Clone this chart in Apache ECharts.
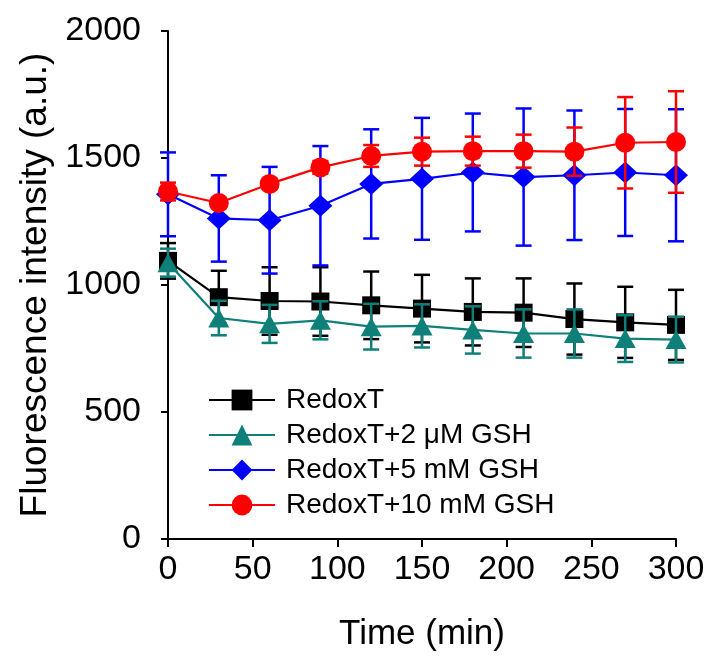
<!DOCTYPE html>
<html><head><meta charset="utf-8">
<script src="https://cdn.jsdelivr.net/npm/echarts@6/dist/echarts.min.js"></script>
<style>html,body{margin:0;padding:0;background:#fff}#c{width:709px;height:661px}</style>
</head><body><div id="c"></div>
<script>
const times = [0, 30, 60, 90, 120, 150, 180, 210, 240, 270, 300];
const seriesNames = ['RedoxT', 'RedoxT+2 \u03bcM GSH', 'RedoxT+5 mM GSH', 'RedoxT+10 mM GSH'];
const redoxT      = [1095, 952, 937, 935, 920, 907, 894, 891, 866, 853, 843];
const redoxTErr   = [70, 104, 133, 135, 133, 133, 132, 135, 140, 140, 138];
const gsh2uM      = [1088, 870, 847, 861, 836, 839, 823, 809, 809, 789, 785];
const gsh2uMErr   = [55, 68, 75, 75, 90, 85, 93, 95, 95, 92, 90];
const gsh5mM      = [1357, 1262, 1255, 1312, 1398, 1418, 1443, 1425, 1432, 1443, 1432];
const gsh5mMErr   = [165, 170, 210, 235, 215, 240, 232, 270, 255, 250, 260];
const gsh10mM     = [1368, 1323, 1398, 1463, 1508, 1525, 1527, 1527, 1525, 1560, 1563];
const gsh10mMErr  = [35, 20, 20, 25, 43, 55, 57, 65, 95, 180, 200];
const yTicks = [0, 500, 1000, 1500, 2000];

const colors = ['#000000', '#0e8079', '#0000ff', '#ff0000'];
const symbols = ['rect', 'triangle', 'diamond', 'circle'];
const symSizes = [[18, 18], [21, 19], [24, 22], [20, 20]];
const vals = [redoxT, gsh2uM, gsh5mM, gsh10mM];
const errs = [redoxTErr, gsh2uMErr, gsh5mMErr, gsh10mMErr];

const FONT = 'Liberation Sans, Arial, sans-serif';
const series = [];
vals.forEach((v, i) => {
  const err = errs[i];
  series.push({
    type: 'custom',
    name: seriesNames[i] + '_err',
    z: 2 * i + 1,
    silent: true,
    data: times.map((t, k) => [t, v[k] - err[k], v[k] + err[k]]),
    renderItem: function (params, api) {
      const lo = api.coord([api.value(0), api.value(1)]);
      const hi = api.coord([api.value(0), api.value(2)]);
      const hw = 8;
      const st = { stroke: colors[i], lineWidth: 2.5 };
      return {
        type: 'group',
        children: [
          { type: 'line', shape: { x1: lo[0], y1: lo[1], x2: hi[0], y2: hi[1] }, style: st },
          { type: 'line', shape: { x1: lo[0] - hw, y1: lo[1], x2: lo[0] + hw, y2: lo[1] }, style: st },
          { type: 'line', shape: { x1: hi[0] - hw, y1: hi[1], x2: hi[0] + hw, y2: hi[1] }, style: st }
        ]
      };
    }
  });
  series.push({
    type: 'line',
    name: seriesNames[i],
    z: 2 * i + 2,
    data: times.map((t, k) => [t, v[k]]),
    symbol: symbols[i],
    symbolSize: symSizes[i],
    lineStyle: { color: colors[i], width: 2.2 },
    itemStyle: { color: colors[i] },
    animation: false
  });
});

const chart = echarts.init(document.getElementById('c'), null, { renderer: 'canvas' });
chart.setOption({
  animation: false,
  backgroundColor: '#ffffff',
  grid: { left: 168, right: 33, top: 31, bottom: 122, containLabel: false },
  legend: {
    data: seriesNames,
    orient: 'vertical',
    left: 203,
    top: 381,
    itemWidth: 66,
    itemHeight: 26,
    itemGap: 7,
    textStyle: { fontFamily: FONT, fontSize: 28, color: '#000', lineHeight: 28, padding: [0, 0, 0, 6] },
    selectedMode: false
  },
  xAxis: {
    type: 'value',
    min: 0, max: 300, interval: 50,
    name: 'Time (min)',
    nameLocation: 'middle',
    nameGap: 78,
    nameTextStyle: { fontFamily: FONT, fontSize: 35, color: '#000' },
    axisLine: { lineStyle: { color: '#000', width: 2 } },
    axisTick: { show: true, inside: false, length: 8, lineStyle: { color: '#000', width: 2 } },
    axisLabel: { fontFamily: FONT, fontSize: 34, color: '#000', margin: 14 },
    splitLine: { show: false }
  },
  yAxis: {
    type: 'value',
    min: yTicks[0], max: yTicks[yTicks.length - 1], interval: 500,
    name: 'Fluorescence intensity (a.u.)',
    nameLocation: 'middle',
    nameGap: 114,
    nameRotate: 90,
    nameTextStyle: { fontFamily: FONT, fontSize: 37, color: '#000' },
    axisLine: { show: true, lineStyle: { color: '#000', width: 2 } },
    axisTick: { show: true, inside: false, length: 7, lineStyle: { color: '#000', width: 2 } },
    axisLabel: { fontFamily: FONT, fontSize: 34, color: '#000', margin: 27, formatter: function (v) { return String(v); } },
    splitLine: { show: false }
  },
  series: series
});
</script></body></html>
